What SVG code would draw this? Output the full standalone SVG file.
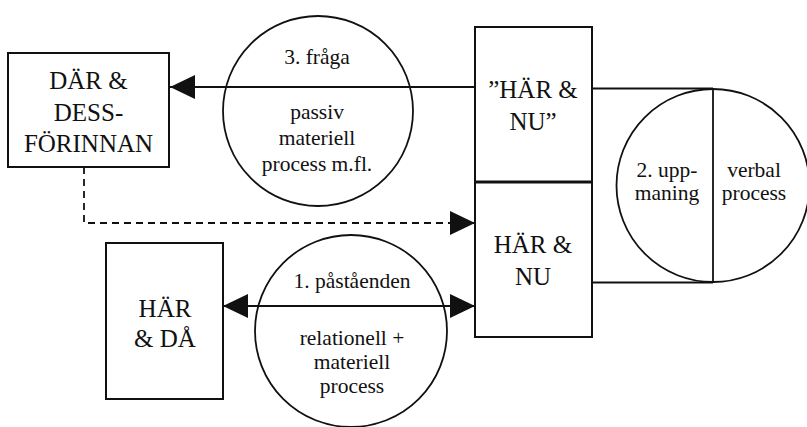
<svg xmlns="http://www.w3.org/2000/svg" width="807" height="427" viewBox="0 0 807 427">
<style>
.bg{fill:#fff}
.box{fill:#fff;stroke:#111;stroke-width:2}
.circ{fill:none;stroke:#111;stroke-width:1.8}
.ln{fill:none;stroke:#111;stroke-width:1.8}
.dash{fill:none;stroke:#111;stroke-width:1.8;stroke-dasharray:7,5}
text{font-family:'Liberation Serif','Times New Roman','DejaVu Serif',serif;fill:#111;text-anchor:middle}
.bt{font-size:25px}
.ct{font-size:21.5px}
</style>
<defs>
<marker id="ah" viewBox="0 0 25 24" refX="25" refY="12" markerWidth="25" markerHeight="24" markerUnits="userSpaceOnUse" orient="auto-start-reverse">
<path d="M0,0 L25,12 L0,24 Z" fill="#111"/>
</marker>
</defs>
<rect class="bg" width="807" height="427"/>
<g id="connectors">
<path class="ln" d="M475,87 H170" marker-end="url(#ah)"/>
<path class="ln" d="M223,306 H475" marker-start="url(#ah)" marker-end="url(#ah)"/>
<path class="dash" d="M84,167 V223 H475" marker-end="url(#ah)"/>
<path class="ln" d="M592,88.5 H713 M592,282.5 H713 M713,89 V282"/>
</g>
<g id="dar">
<rect class="box" x="8" y="53" width="161" height="114"/>
<text class="bt" x="88.5" y="89" font-family="Liberation Serif, serif">DÄR &amp;</text>
<text class="bt" x="88.5" y="121">DESS-</text>
<text class="bt" x="88.5" y="152">FÖRINNAN</text>
</g>
<g id="hardaa">
<rect class="box" x="106" y="243" width="117" height="156"/>
<text class="bt" x="165" y="317">HÄR</text>
<text class="bt" x="165" y="347">&amp; DÅ</text>
</g>
<g id="harnu-quoted">
<rect class="box" x="475" y="27" width="117" height="155"/>
<text class="bt" x="533" y="98">”HÄR &amp;</text>
<text class="bt" x="533" y="130">NU”</text>
</g>
<g id="harnu">
<rect class="box" x="475" y="182" width="117" height="155"/>
<line x1="475" y1="182" x2="592" y2="182" stroke="#111" stroke-width="3"/>
<text class="bt" x="533" y="253">HÄR &amp;</text>
<text class="bt" x="533" y="285">NU</text>
</g>
<g id="fraga">
<circle class="circ" cx="318" cy="111" r="95"/>
<text class="ct" x="317" y="64">3. fråga</text>
<text class="ct" x="317" y="119">passiv</text>
<text class="ct" x="317" y="145">materiell</text>
<text class="ct" x="317" y="171">process m.fl.</text>
</g>
<g id="uppmaning">
<circle class="circ" cx="713" cy="185.5" r="96.5"/>
<text class="ct" x="667" y="177">2. upp-</text>
<text class="ct" x="667" y="200">maning</text>
<text class="ct" x="754" y="177">verbal</text>
<text class="ct" x="754" y="200">process</text>
</g>
<g id="pastaenden">
<circle class="circ" cx="351" cy="331" r="96"/>
<text class="ct" x="352" y="288">1. påståenden</text>
<text class="ct" x="352" y="345">relationell +</text>
<text class="ct" x="352" y="369">materiell</text>
<text class="ct" x="352" y="393">process</text>
</g>
</svg>
